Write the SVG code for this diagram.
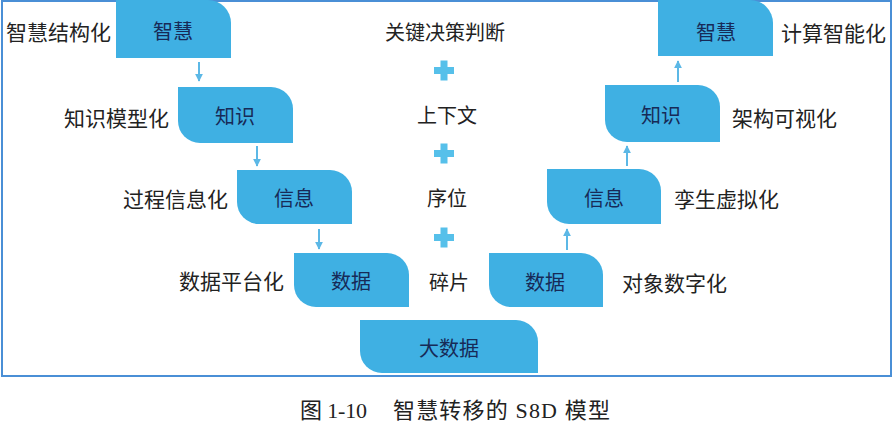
<svg xmlns="http://www.w3.org/2000/svg" width="893" height="423" viewBox="0 0 893 423">
<defs>
<style>
.box{fill:#3fb0e3;}
.bt{font-family:"Noto Sans CJK SC",sans-serif;font-size:20px;fill:#172a57;text-anchor:middle;dominant-baseline:central;}
.lb{font-family:"Noto Sans CJK SC",sans-serif;font-size:21px;fill:#222;dominant-baseline:central;}
.ct{font-family:"Noto Sans CJK SC",sans-serif;font-size:20px;fill:#222;text-anchor:middle;dominant-baseline:central;}
.ar{stroke:#5cb8e6;stroke-width:2;fill:none;}
.plus{fill:#56c0ea;}
.cap{font-family:"Liberation Serif","Noto Sans CJK SC",serif;font-size:22px;fill:#222;}
</style>
<marker id="ah" viewBox="0 0 10 10" refX="9" refY="5" markerWidth="4" markerHeight="4" orient="auto">
<path d="M0 0 L10 5 L0 10 Z" fill="#5cb8e6"/>
</marker>
</defs>
<rect x="2" y="1" width="889" height="375" fill="#fff" stroke="#4a8fd6" stroke-width="2"/>

<g id="connectors">
<line class="ar" x1="199" y1="62" x2="199" y2="81" marker-end="url(#ah)"/>
<line class="ar" x1="257" y1="146" x2="257" y2="166" marker-end="url(#ah)"/>
<line class="ar" x1="319" y1="229" x2="319" y2="249" marker-end="url(#ah)"/>
<line class="ar" x1="567" y1="250" x2="567" y2="229" marker-end="url(#ah)"/>
<line class="ar" x1="627" y1="166" x2="627" y2="146" marker-end="url(#ah)"/>
<line class="ar" x1="678" y1="82" x2="678" y2="61" marker-end="url(#ah)"/>
</g>

<g id="plus1"><rect class="plus" x="434" y="67" width="20" height="7"/><rect class="plus" x="440.5" y="60.5" width="7" height="20"/></g>
<g id="plus2"><rect class="plus" x="434" y="150" width="20" height="7"/><rect class="plus" x="440.5" y="143.5" width="7" height="20"/></g>
<g id="plus3"><rect class="plus" x="434" y="234" width="20" height="7"/><rect class="plus" x="440.5" y="227.5" width="7" height="20"/></g>

<g id="L4"><path class="box" d="M116 0 H208 A23 23 0 0 1 231 23 V58 H116 Z"/><text class="bt" x="173" y="30">智慧</text></g>
<g id="L3"><path class="box" d="M178 87 H271 A22 22 0 0 1 293 109 V143 H200 A22 22 0 0 1 178 121 Z"/><text class="bt" x="235" y="115">知识</text></g>
<g id="L2"><path class="box" d="M237 170 H330 A22 22 0 0 1 352 192 V224 H259 A22 22 0 0 1 237 202 Z"/><text class="bt" x="294" y="197">信息</text></g>
<g id="L1"><path class="box" d="M294 253 H387 A22 22 0 0 1 409 275 V307 H316 A22 22 0 0 1 294 285 Z"/><text class="bt" x="351" y="280">数据</text></g>
<g id="big"><path class="box" d="M360 320 H516 A22 22 0 0 1 538 342 V373 H382 A22 22 0 0 1 360 351 Z"/><text class="bt" x="449" y="347">大数据</text></g>
<g id="R1"><path class="box" d="M489 253 H581 A22 22 0 0 1 603 275 V307 H511 A22 22 0 0 1 489 285 Z"/><text class="bt" x="545" y="281">数据</text></g>
<g id="R2"><path class="box" d="M547 169 H639 A22 22 0 0 1 661 191 V224 H569 A22 22 0 0 1 547 202 Z"/><text class="bt" x="604" y="197">信息</text></g>
<g id="R3"><path class="box" d="M605 85 H698 A22 22 0 0 1 720 107 V142 H627 A22 22 0 0 1 605 120 Z"/><text class="bt" x="661" y="114">知识</text></g>
<g id="R4"><path class="box" d="M658 0 H750 A23 23 0 0 1 773 23 V56 H658 Z"/><text class="bt" x="716" y="31">智慧</text></g>

<g id="labels">
<text class="lb" x="111" y="31" text-anchor="end">智慧结构化</text>
<text class="lb" x="169" y="117" text-anchor="end">知识模型化</text>
<text class="lb" x="228" y="198" text-anchor="end">过程信息化</text>
<text class="lb" x="284" y="280" text-anchor="end">数据平台化</text>
<text class="lb" x="781" y="32">计算智能化</text>
<text class="lb" x="732" y="117">架构可视化</text>
<text class="lb" x="674" y="198">孪生虚拟化</text>
<text class="lb" x="622" y="282">对象数字化</text>
<text class="ct" x="445" y="31">关键决策判断</text>
<text class="ct" x="447" y="114">上下文</text>
<text class="ct" x="447" y="197">序位</text>
<text class="ct" x="449" y="281">碎片</text>
</g>
<g id="caption">
<text class="cap" x="300" y="418" textLength="67" lengthAdjust="spacing">图 1-10</text>
<text class="cap" x="393" y="418" textLength="217" lengthAdjust="spacing">智慧转移的 S8D 模型</text>
</g>
</svg>
